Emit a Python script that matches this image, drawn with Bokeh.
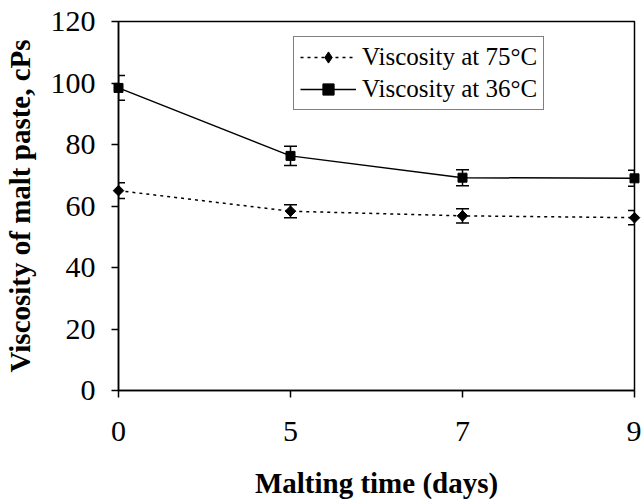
import math
from bokeh.plotting import figure
from bokeh.models import ColumnDataSource, Whisker, Legend, LegendItem, FixedTicker, Range1d
from bokeh.embed import file_html
from bokeh.resources import INLINE

days = ["0", "5", "7", "9"]
visc_75 = [65.0, 58.3, 56.8, 56.2]
err_75 = [2.6, 2.1, 2.3, 2.3]
visc_36 = [98.4, 76.3, 69.2, 69.0]
err_36 = [4.0, 3.1, 2.6, 2.6]
y_ticks = [0, 20, 40, 60, 80, 100, 120]

xpos = list(range(len(days)))

src75 = ColumnDataSource(dict(x=xpos, y=visc_75,
                              lo=[v - e for v, e in zip(visc_75, err_75)],
                              hi=[v + e for v, e in zip(visc_75, err_75)]))
src36 = ColumnDataSource(dict(x=xpos, y=visc_36,
                              lo=[v - e for v, e in zip(visc_36, err_36)],
                              hi=[v + e for v, e in zip(visc_36, err_36)]))

p = figure(width=641, height=501, output_backend="svg", toolbar_location=None,
           x_range=Range1d(0, len(days) - 1), y_range=Range1d(0, 120),
           min_border_left=118, min_border_top=21, min_border_right=7,
           min_border_bottom=104)

p.grid.visible = False
p.outline_line_color = "black"
p.outline_line_width = 1.5
p.background_fill_color = "white"
p.border_fill_color = "white"

FONT = "Liberation Serif"

for ax in (p.xaxis, p.yaxis):
    ax.axis_line_color = "black"
    ax.axis_line_width = 1.5
    ax.major_tick_line_color = "black"
    ax.major_tick_line_width = 1.5
    ax.major_tick_in = 0
    ax.major_tick_out = 7
    ax.minor_tick_line_color = None
    ax.major_label_text_font = FONT
    ax.major_label_text_font_size = "30px"
    ax.major_label_text_color = "black"
    ax.axis_label_text_font = FONT
    ax.axis_label_text_font_size = "29px"
    ax.axis_label_text_font_style = "bold"
    ax.axis_label_text_color = "black"

p.xaxis.ticker = FixedTicker(ticks=xpos)
p.xaxis.major_label_overrides = {i: d for i, d in enumerate(days)}
p.xaxis.major_label_standoff = 24
p.xaxis.axis_label = "Malting time (days)"
p.xaxis.axis_label_standoff = 23

p.yaxis.ticker = FixedTicker(ticks=y_ticks)
p.yaxis.major_label_standoff = 16
p.yaxis.axis_label = "Viscosity of malt paste, cPs"
p.yaxis.axis_label_standoff = 12

# error bars
for s in (src75, src36):
    w = Whisker(base="x", lower="lo", upper="hi", source=s,
                line_color="black", line_width=1.5, level="overlay")
    w.upper_head.size = 13
    w.lower_head.size = 13
    w.upper_head.line_color = "black"
    w.lower_head.line_color = "black"
    w.upper_head.line_width = 1.5
    w.lower_head.line_width = 1.5
    p.add_layout(w)

l75 = p.line("x", "y", source=src75, line_color="black", line_width=1.5, line_dash="3 4")
m75 = p.scatter("x", "y", source=src75, marker="square", size=7.5, angle=math.pi / 4,
                fill_color="black", line_color="black")
l36 = p.line("x", "y", source=src36, line_color="black", line_width=1.5)
m36 = p.scatter("x", "y", source=src36, marker="square", size=9,
                fill_color="black", line_color="black")
for r in (l75, m75, l36, m36):
    r.level = "overlay"

# legend-only diamond (legend markers are never rotated); NaN point is not drawn in the plot
leg_diamond = p.scatter(x=[float("nan")], y=[float("nan")], marker="diamond", size=12,
                        fill_color="black", line_color="black")

legend = Legend(items=[
    LegendItem(label="Viscosity at 75°C", renderers=[l75, leg_diamond]),
    LegendItem(label="Viscosity at 36°C", renderers=[l36, m36]),
], location=(175, 280))
legend.label_text_font = FONT
legend.label_text_font_size = "25px"
legend.label_text_color = "black"
legend.glyph_width = 56
legend.glyph_height = 28
legend.label_height = 28
legend.label_standoff = 6
legend.spacing = 4
legend.padding = 6
legend.margin = 0
legend.border_line_color = "black"
legend.border_line_width = 1.5
legend.background_fill_alpha = 1.0
p.add_layout(legend, "center")

open("out.html", "w").write(file_html(p, INLINE))
